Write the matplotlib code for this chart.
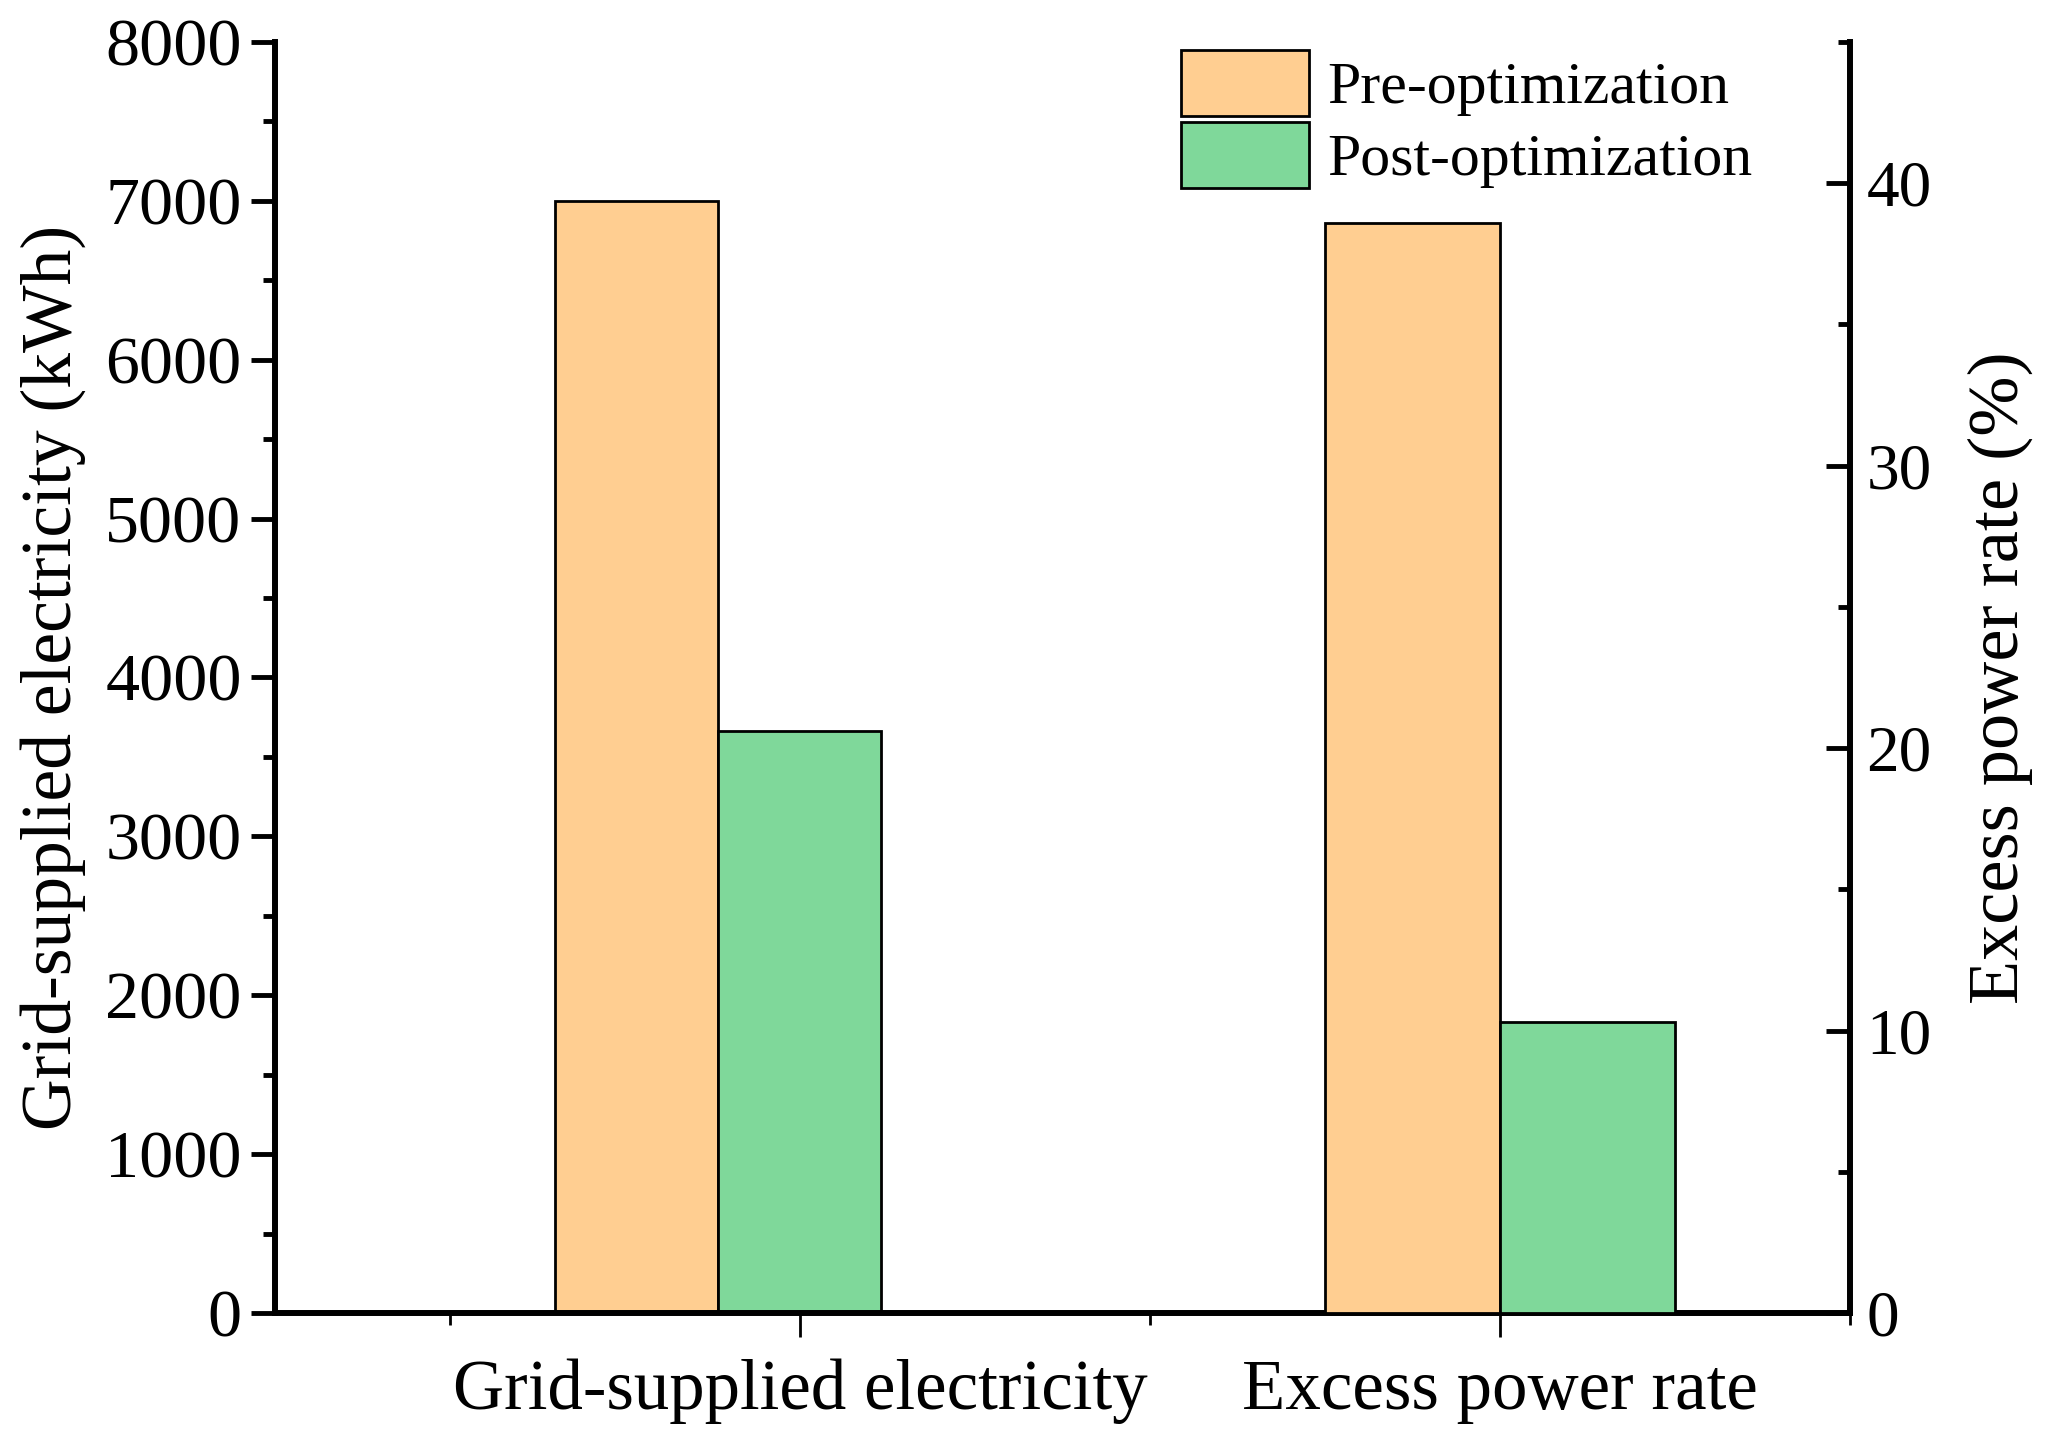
import matplotlib
matplotlib.use("Agg")
import matplotlib.pyplot as plt
from matplotlib.ticker import MultipleLocator
import numpy as np

plt.rcParams['font.family'] = ['Liberation Serif', 'DejaVu Serif']

categories = ["Grid-supplied electricity", "Excess power rate"]
series_names = ["Pre-optimization", "Post-optimization"]
grid_kwh = [7000, 3660]        # left axis (kWh)
excess_rate = [38.6, 10.3]     # right axis (%)

orange = "#FFCE91"
green = "#7FD89A"

fig = plt.figure(figsize=(20.55, 14.51), dpi=100)
ax = fig.add_axes([0.1338, 0.0951, 0.7664, 0.876])
ax2 = ax.twinx()

xx = np.arange(len(categories))
# group 1 on left axis, group 2 on right axis
w1 = 0.233
b1 = ax.bar(xx[0] - w1, grid_kwh[0], w1, color=orange, edgecolor="black", linewidth=2, label=series_names[0])
b2 = ax.bar(xx[0], grid_kwh[1], w1, color=green, edgecolor="black", linewidth=2, label=series_names[1])
w2 = 0.25
ax2.bar(xx[1] - w2 / 2, excess_rate[0], w2, color=orange, edgecolor="black", linewidth=2)
ax2.bar(xx[1] + w2 / 2, excess_rate[1], w2, color=green, edgecolor="black", linewidth=2)

ax.set_xlim(-0.75, 1.5)
ax.set_ylim(0, 8000)
ax2.set_ylim(0, 45)

ax.set_xticks(xx)
ax.set_xticklabels(categories, fontsize=51)
ax.xaxis.set_minor_locator(MultipleLocator(0.5))
ax.yaxis.set_major_locator(MultipleLocator(1000))
ax.yaxis.set_minor_locator(MultipleLocator(500))
ax2.yaxis.set_major_locator(MultipleLocator(10))
ax2.yaxis.set_minor_locator(MultipleLocator(5))

lw = 4.3
for a in (ax, ax2):
    a.spines['top'].set_visible(False)
    for s in ('left', 'right', 'bottom'):
        a.spines[s].set_linewidth(lw)
ax.spines['right'].set_visible(False)
ax2.spines['left'].set_visible(False)
ax2.spines['bottom'].set_visible(False)

ax.tick_params(axis='y', which='major', direction='out', length=17, width=3.5, labelsize=49, pad=7)
ax.tick_params(axis='y', which='minor', direction='out', length=8.5, width=3.5)
ax.tick_params(axis='x', which='major', direction='out', length=17, width=2, pad=16)
ax.tick_params(axis='x', which='minor', direction='out', length=8.5, width=2)
ax2.tick_params(axis='y', which='major', direction='in', length=17, width=3.5, labelsize=47, pad=12)
ax2.tick_params(axis='y', which='minor', direction='in', length=8.5, width=3.5)

ax.set_ylabel("Grid-supplied electricity (kWh)", fontsize=51.5, labelpad=14)
ax2.set_ylabel("Excess power rate (%)", fontsize=52, labelpad=26)

fig.legend(handles=[b1, b2], labels=series_names, loc='upper left',
           bbox_to_anchor=(0.5747, 0.9655), frameon=False, fontsize=43,
           handlelength=2.15, handleheight=1.32, labelspacing=0.1,
           handletextpad=0.3, borderpad=0, borderaxespad=0)

fig.savefig("out.png", dpi=100)
